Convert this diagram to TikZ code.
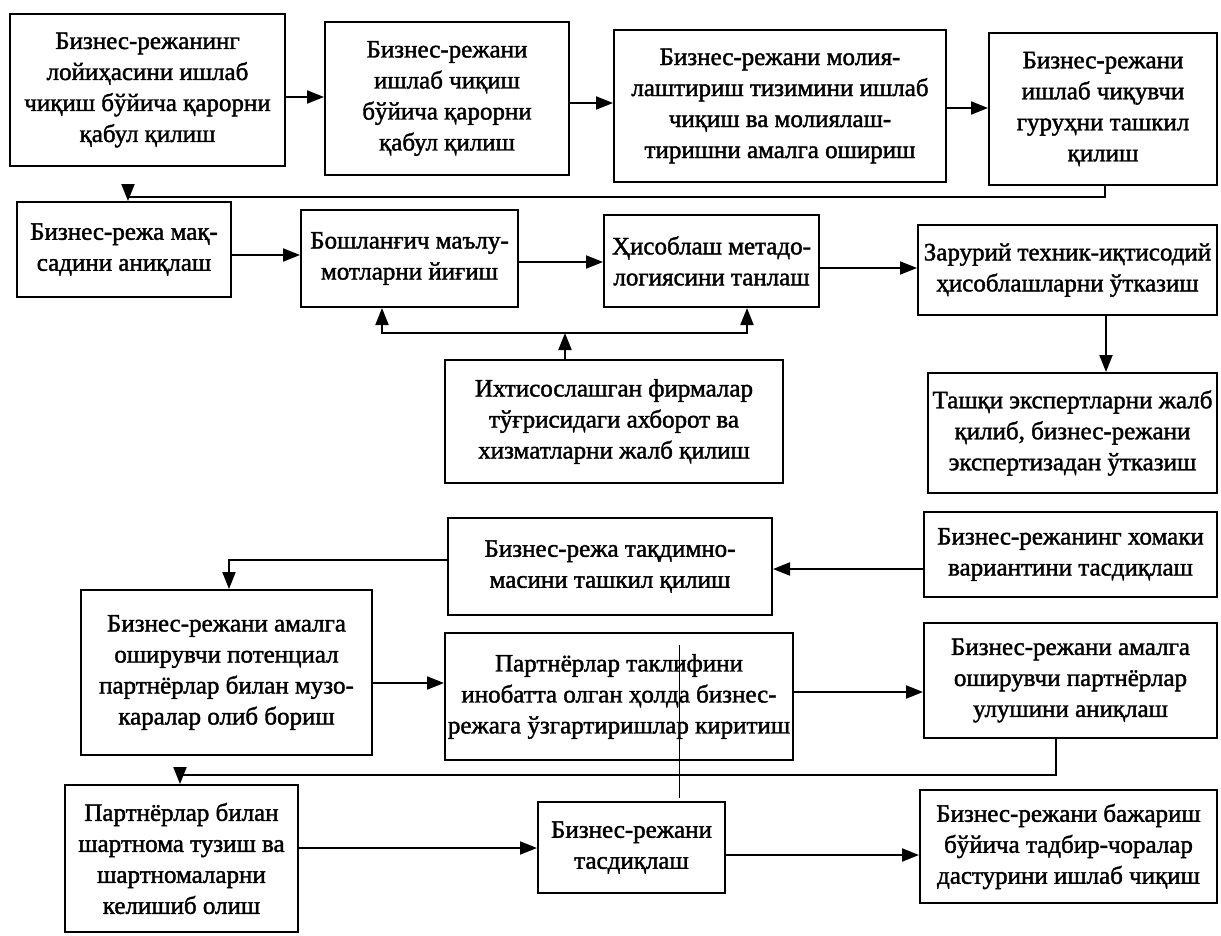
\documentclass[tikz,border=0pt]{standalone}
\usepackage{fontspec}
\newfontfamily\bx{Liberation Serif}[FakeBold=1.6]
\usetikzlibrary{arrows.meta}
\tikzset{
  box/.style={draw, line width=2pt, align=center, inner sep=0pt,
    font=\bx\fontsize{25}{31}\selectfont},
  tip/.tip={Triangle[length=17pt,width=13pt]},
  arr/.style={line width=2pt, -tip},
  arr2/.style={line width=2pt, tip-tip},
  stray/.style={line width=0.7pt}
}
\begin{document}
\begin{tikzpicture}[x=1pt,y=-1pt]
\fill[white] (0,0) rectangle (1221,935);
\useasboundingbox (0,0) rectangle (1221,935);
% row 1
\node[box, minimum width=275pt, minimum height=152pt] (A) at (147.5,90)
  {Бизнес-режанинг\\лойиҳасини ишлаб\\чиқиш бўйича қарорни\\қабул қилиш};
\node[box, minimum width=244pt, minimum height=153pt] (B) at (447,98.5)
  {Бизнес-режани\\ишлаб чиқиш\\бўйича қарорни\\қабул қилиш};
\node[box, minimum width=332pt, minimum height=152pt] (C) at (780,106)
  {Бизнес-режани молия-\\лаштириш тизимини ишлаб\\чиқиш ва молиялаш-\\тиришни амалга ошириш};
\node[box, minimum width=228pt, minimum height=152pt] (D) at (1103,109)
  {Бизнес-режани\\ишлаб чиқувчи\\гуруҳни ташкил\\қилиш};
% row 2
\node[box, minimum width=214pt, minimum height=95pt] (E) at (124,249.5)
  {Бизнес-режа мақ-\\садини аниқлаш};
\node[box, minimum width=217pt, minimum height=97pt] (F) at (409.5,258.5)
  {Бошланғич маълу-\\мотларни йиғиш};
\node[box, minimum width=215pt, minimum height=92pt] (G) at (711.5,261)
  {Ҳисоблаш метадо-\\логиясини танлаш};
\node[box, minimum width=299pt, minimum height=90pt] (H) at (1067.5,270)
  {Зарурий техник-иқтисодий\\ҳисоблашларни ўтказиш};
% row 3
\node[box, minimum width=338pt, minimum height=123pt] (I) at (614,421.5)
  {Ихтисослашган фирмалар\\тўғрисидаги ахборот ва\\хизматларни жалб қилиш};
\node[box, minimum width=289pt, minimum height=120pt] (J) at (1072.5,433)
  {Ташқи экспертларни жалб\\қилиб, бизнес-режани\\экспертизадан ўтказиш};
% row 4
\node[box, minimum width=293pt, minimum height=85pt] (K) at (1070.5,554.5)
  {Бизнес-режанинг хомаки\\вариантини тасдиқлаш};
\node[box, minimum width=324pt, minimum height=97pt] (L) at (610,566.5)
  {Бизнес-режа тақдимно-\\масини ташкил қилиш};
% row 5
\node[box, minimum width=291pt, minimum height=165pt] (M) at (226.5,672.5)
  {Бизнес-режани амалга\\оширувчи потенциал\\партнёрлар билан музо-\\каралар олиб бориш};
\node[box, minimum width=348pt, minimum height=127pt] (N) at (619,696.5)
  {Партнёрлар таклифини\\инобатта олган ҳолда бизнес-\\режага ўзгартиришлар киритиш};
\node[box, minimum width=293pt, minimum height=115pt] (O) at (1070.5,680.5)
  {Бизнес-режани амалга\\оширувчи партнёрлар\\улушини аниқлаш};
% row 6
\node[box, minimum width=233pt, minimum height=147pt] (P) at (181.5,858.5)
  {Партнёрлар билан\\шартнома тузиш ва\\шартномаларни\\келишиб олиш};
\node[box, minimum width=187pt, minimum height=91pt] (Q) at (631.5,847.5)
  {Бизнес-режани\\тасдиқлаш};
\node[box, minimum width=297pt, minimum height=113pt] (R) at (1068.5,846.5)
  {Бизнес-режани бажариш\\бўйича тадбир-чоралар\\дастурини ишлаб чиқиш};
% helper coordinates
\coordinate (y97) at (0,97);
\coordinate (y103) at (0,103);
\coordinate (y108) at (0,108);
\coordinate (fbD) at (1105,197);
\coordinate (fbE) at (128,197);
\coordinate (y255) at (0,255);
\coordinate (y262) at (0,262);
\coordinate (y268) at (0,268);
\coordinate (jl) at (382,333);
\coordinate (jr) at (747,333);
\coordinate (jm) at (565,333);
\coordinate (xHJ) at (1106,0);
\coordinate (y569) at (0,569);
\coordinate (lm1) at (229,560);
\coordinate (y683) at (0,683);
\coordinate (y692) at (0,692);
\coordinate (op1) at (1056,775);
\coordinate (op2) at (180,775);
\coordinate (y848) at (0,848);
\coordinate (y855) at (0,855);
\coordinate (s1) at (679,645);
\coordinate (s2) at (679,798);
% connectors
\draw[arr] (A.east |- y97) -- (B.west |- y97);
\draw[arr] (B.east |- y103) -- (C.west |- y103);
\draw[arr] (C.east |- y108) -- (D.west |- y108);
\draw[arr] (D.south -| fbD) -- (fbD) -- (fbE) -- (E.north -| fbE);
\draw[arr] (E.east |- y255) -- (F.west |- y255);
\draw[arr] (F.east |- y262) -- (G.west |- y262);
\draw[arr] (G.east |- y268) -- (H.west |- y268);
\draw[arr2] (F.south -| jl) -- (jl) -- (jr) -- (G.south -| jr);
\draw[arr] (I.north -| jm) -- (jm);
\draw[arr] (H.south -| xHJ) -- (J.north -| xHJ);
\draw[arr] (K.west |- y569) -- (L.east |- y569);
\draw[arr] (L.west |- lm1) -- (lm1) -- (M.north -| lm1);
\draw[arr] (M.east |- y683) -- (N.west |- y683);
\draw[arr] (N.east |- y692) -- (O.west |- y692);
\draw[arr] (O.south -| op1) -- (op1) -- (op2) -- (P.north -| op2);
\draw[arr] (P.east |- y848) -- (Q.west |- y848);
\draw[arr] (Q.east |- y855) -- (R.west |- y855);
\draw[stray] (s1) -- (s2);
\end{tikzpicture}
\end{document}
